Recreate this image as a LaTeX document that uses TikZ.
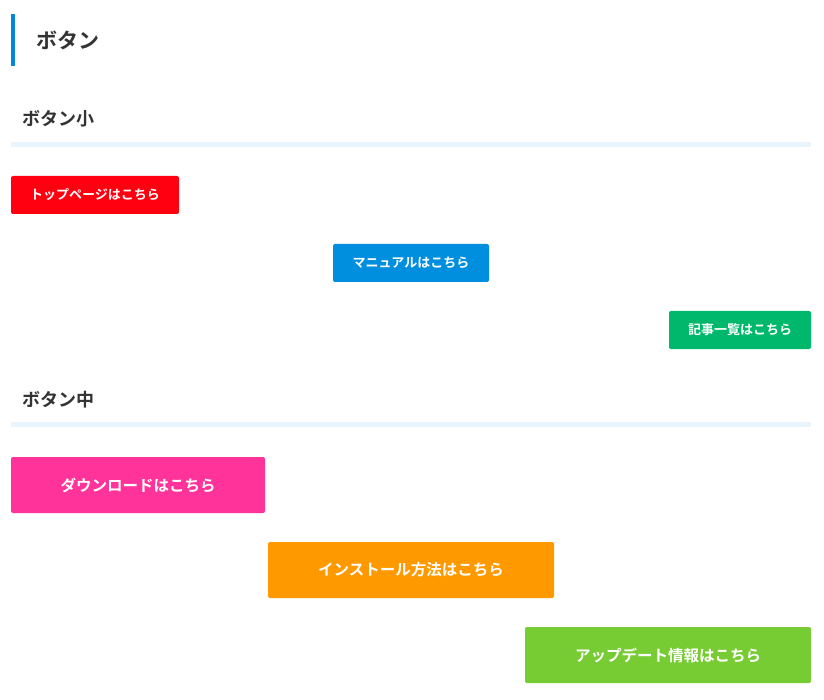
\documentclass[tikz,border=0pt]{standalone}
\usepackage{fontspec}
\newfontfamily\cjk{Noto Sans CJK JP}[BoldFont={Noto Sans CJK JP Bold}]
\definecolor{txt}{HTML}{333333}
\definecolor{bar}{HTML}{0088DD}
\definecolor{rule}{HTML}{EAF4FD}
\definecolor{bred}{HTML}{FF0011}
\definecolor{bblue}{HTML}{008FDE}
\definecolor{bgreen}{HTML}{00B86B}
\definecolor{bpink}{HTML}{FF3399}
\definecolor{borange}{HTML}{FF9900}
\definecolor{blime}{HTML}{77CC33}
\begin{document}
\begin{tikzpicture}[x=1pt,y=-1pt,
  btn/.style={rounded corners=2pt,draw=none},
  btxt/.style={text=white,font=\cjk\bfseries\fontsize{13}{15}\selectfont},
  btxtm/.style={text=white,font=\cjk\bfseries\fontsize{15.5}{18}\selectfont},
  head/.style={anchor=west,text=txt,font=\cjk\bfseries\fontsize{18}{20}\selectfont,inner sep=0pt}]
\useasboundingbox[fill=white] (0,0) rectangle (824,700);
\fill[bar] (11,14) rectangle (15,66);
\node[anchor=west,text=txt,font=\cjk\bfseries\fontsize{21}{24}\selectfont,inner sep=0pt] (t) at (36,40) {ボタン};
\node[head] (h1) at (22,119) {ボタン小};
\fill[rule] (11,142) rectangle (811,147);
\fill[bred,btn] (11,176) rectangle (179,214);
\node[btxt] (b1) at (95,195) {トップページはこちら};
\fill[bblue,btn] (333,244) rectangle (489,282);
\node[btxt] (b2) at (411,263) {マニュアルはこちら};
\fill[bgreen,btn] (669,311) rectangle (811,349);
\node[btxt] (b3) at (740,330) {記事一覧はこちら};
\node[head] (h2) at (22,400) {ボタン中};
\fill[rule] (11,422) rectangle (811,427);
\fill[bpink,btn] (11,457) rectangle (265,513);
\node[btxtm] (b4) at (138,485) {ダウンロードはこちら};
\fill[borange,btn] (268,542) rectangle (554,598);
\node[btxtm] (b5) at (411,570) {インストール方法はこちら};
\fill[blime,btn] (525,627) rectangle (811,683);
\node[btxtm] (b6) at (668,655) {アップデート情報はこちら};
\end{tikzpicture}
\end{document}
